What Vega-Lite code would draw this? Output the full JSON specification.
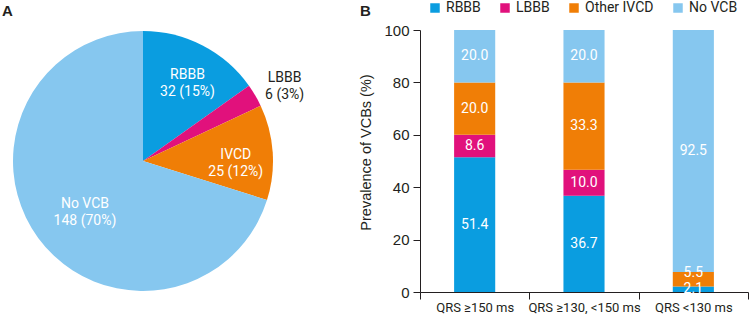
{
  "$schema": "https://vega.github.io/schema/vega-lite/v6.json",
  "background": "white",
  "padding": {"left": 0, "top": 1, "right": 0, "bottom": 0},
  "bounds": "flush",
  "spacing": 134,
  "config": {"view": {"stroke": null}, "font": "Roboto"},
  "resolve": {"scale": {"color": "independent"}},
  "hconcat": [
    {
      "width": 286,
      "height": 262,
      "title": {"text": "A", "anchor": "start", "frame": "group", "font": "Liberation Sans", "fontSize": 15, "fontWeight": "bold", "color": "#231f20", "dx": 2, "offset": 11},
      "data": {"values": [
        {"cat": "RBBB", "n": 32, "label": "RBBB\n32 (15%)", "ord": 1},
        {"cat": "LBBB", "n": 6, "label": "LBBB\n6 (3%)", "ord": 2},
        {"cat": "IVCD", "n": 25, "label": "IVCD\n25 (12%)", "ord": 3},
        {"cat": "No VCB", "n": 148, "label": "No VCB\n148 (70%)", "ord": 4}
      ]},
      "transform": [
        {"window": [{"op": "sum", "field": "n", "as": "cum"}], "sort": [{"field": "ord", "order": "ascending"}], "frame": [null, 0]},
        {"calculate": "datum.cum - datum.n / 2", "as": "mid"}
      ],
      "layer": [
        {"mark": {"type": "arc", "outerRadius": 130},
         "encoding": {
           "theta": {"field": "n", "type": "quantitative", "stack": true},
           "order": {"field": "ord", "type": "quantitative"},
           "color": {"field": "cat", "type": "nominal", "scale": {"domain": ["RBBB", "LBBB", "IVCD", "No VCB"], "range": ["#0a9de0", "#e1117c", "#f07e06", "#86c7ef"]}, "legend": null}
         }},
        {"transform": [{"filter": "datum.cat === 'RBBB'"}],
         "mark": {"type": "text", "radius": 97, "lineBreak": "\n", "fontSize": 14, "lineHeight": 17, "color": "white"},
         "encoding": {"theta": {"field": "mid", "type": "quantitative", "stack": null}, "text": {"field": "label", "type": "nominal"}}},
        {"transform": [{"filter": "datum.cat === 'LBBB'"}],
         "mark": {"type": "text", "radius": 164, "lineBreak": "\n", "fontSize": 14, "lineHeight": 17, "color": "#231f20"},
         "encoding": {"theta": {"field": "mid", "type": "quantitative", "stack": null}, "text": {"field": "label", "type": "nominal"}}},
        {"transform": [{"filter": "datum.cat === 'IVCD'"}],
         "mark": {"type": "text", "radius": 93, "lineBreak": "\n", "fontSize": 14, "lineHeight": 17, "color": "white"},
         "encoding": {"theta": {"field": "mid", "type": "quantitative", "stack": null}, "text": {"field": "label", "type": "nominal"}}},
        {"transform": [{"filter": "datum.cat === 'No VCB'"}],
         "mark": {"type": "text", "radius": 72, "lineBreak": "\n", "fontSize": 14, "lineHeight": 17, "color": "white"},
         "encoding": {"theta": {"field": "mid", "type": "quantitative", "stack": null}, "text": {"field": "label", "type": "nominal"}}}
      ]
    },
    {
      "width": 328,
      "height": 262,
      "title": {"text": "B", "anchor": "start", "frame": "group", "font": "Liberation Sans", "fontSize": 15, "fontWeight": "bold", "color": "#231f20", "dx": -60, "offset": -18},
      "data": {"values": [
        {"qrs": "QRS ≥150 ms", "type": "RBBB", "value": 51.4, "ord": 1},
        {"qrs": "QRS ≥150 ms", "type": "LBBB", "value": 8.6, "ord": 2},
        {"qrs": "QRS ≥150 ms", "type": "Other IVCD", "value": 20.0, "ord": 3},
        {"qrs": "QRS ≥150 ms", "type": "No VCB", "value": 20.0, "ord": 4},
        {"qrs": "QRS ≥130, <150 ms", "type": "RBBB", "value": 36.7, "ord": 1},
        {"qrs": "QRS ≥130, <150 ms", "type": "LBBB", "value": 10.0, "ord": 2},
        {"qrs": "QRS ≥130, <150 ms", "type": "Other IVCD", "value": 33.3, "ord": 3},
        {"qrs": "QRS ≥130, <150 ms", "type": "No VCB", "value": 20.0, "ord": 4},
        {"qrs": "QRS <130 ms", "type": "RBBB", "value": 2.1, "ord": 1},
        {"qrs": "QRS <130 ms", "type": "Other IVCD", "value": 5.5, "ord": 3},
        {"qrs": "QRS <130 ms", "type": "No VCB", "value": 92.5, "ord": 4}
      ]},
      "transform": [
        {"stack": "value", "groupby": ["qrs"], "sort": [{"field": "ord", "order": "ascending"}], "as": ["v0", "v1"]},
        {"calculate": "(datum.v0 + datum.v1) / 2", "as": "mid"}
      ],
      "encoding": {
        "x": {"field": "qrs", "type": "nominal", "sort": ["QRS ≥150 ms", "QRS ≥130, <150 ms", "QRS <130 ms"],
              "scale": {"paddingInner": 0, "paddingOuter": 0},
              "axis": {"title": null, "labelAngle": 0, "tickBand": "extent", "domainColor": "#231f20", "tickColor": "#231f20", "tickSize": 7, "labelFontSize": 13, "labelColor": "#231f20", "labelPadding": 2, "labelFont": "Roboto"}}
      },
      "layer": [
        {"mark": {"type": "bar", "clip": true, "width": {"band": 0.376}},
         "encoding": {
           "y": {"field": "v0", "type": "quantitative", "scale": {"domain": [0, 100]},
                 "axis": {"title": "Prevalence of VCBs (%)", "values": [0, 20, 40, 60, 80, 100], "grid": false, "domainColor": "#231f20", "tickColor": "#231f20", "tickSize": 7, "labelFontSize": 15, "labelFont": "Liberation Sans", "labelColor": "#231f20", "labelPadding": 4, "titleFont": "Liberation Sans", "titleFontSize": 14.5, "titleFontWeight": "normal", "titleColor": "#231f20", "titlePadding": 10, "titleY": 122}},
           "y2": {"field": "v1"},
           "color": {"field": "type", "type": "nominal", "scale": {"domain": ["RBBB", "LBBB", "Other IVCD", "No VCB"], "range": ["#0a9de0", "#e1117c", "#f07e06", "#86c7ef"]},
                     "legend": {"title": null, "orient": "none", "legendX": 8, "legendY": -29, "direction": "horizontal", "symbolType": "square", "symbolSize": 90, "symbolStrokeWidth": 0, "labelFontSize": 14, "labelFont": "Roboto", "labelColor": "#231f20", "columnPadding": 17}}
         }},
        {"transform": [{"filter": "!(datum.qrs === 'QRS <130 ms' && datum.type === 'Other IVCD')"}],
         "mark": {"type": "text", "color": "white", "fontSize": 14},
         "encoding": {
           "y": {"field": "mid", "type": "quantitative"},
           "text": {"field": "value", "type": "quantitative", "format": ".1f"}
         }},
        {"transform": [{"filter": "datum.qrs === 'QRS <130 ms' && datum.type === 'Other IVCD'"}],
         "mark": {"type": "text", "color": "white", "fontSize": 14, "dy": -6},
         "encoding": {
           "y": {"field": "mid", "type": "quantitative"},
           "text": {"field": "value", "type": "quantitative", "format": ".1f"}
         }}
      ]
    }
  ]
}
